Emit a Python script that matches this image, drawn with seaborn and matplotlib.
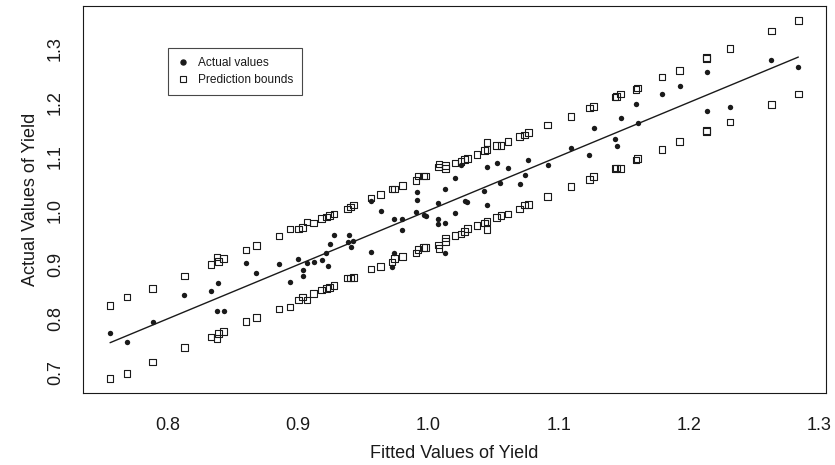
import numpy as np
import pandas as pd
import seaborn as sns
import matplotlib.pyplot as plt
from matplotlib.lines import Line2D

# Fitted values at which the prediction bounds were drawn
bound_fitted = [0.7556, 0.7686, 0.7882, 0.8126, 0.8330, 0.8379, 0.8387, 0.8428, 0.8599, 0.8680,
                0.8855, 0.8937, 0.9002, 0.9034, 0.9067, 0.9120, 0.9181, 0.9217, 0.9242, 0.9274,
                0.9380, 0.9401, 0.9425, 0.9559, 0.9633, 0.9722, 0.9739, 0.9800, 0.9906, 0.9922,
                0.9963, 0.9979, 1.0077, 1.0081, 1.0130, 1.0130, 1.0203, 1.0252, 1.0276, 1.0300,
                1.0374, 1.0431, 1.0451, 1.0451, 1.0524, 1.0557, 1.0610, 1.0700, 1.0740, 1.0769,
                1.0915, 1.1095, 1.1237, 1.1270, 1.1432, 1.1445, 1.1477, 1.1595, 1.1607, 1.1795,
                1.1929, 1.2137, 1.2137, 1.2316, 1.2634, 1.2841]
upper_bound = [0.824, 0.840, 0.856, 0.879, 0.900, 0.914, 0.906, 0.911, 0.927, 0.935,
               0.953, 0.966, 0.966, 0.969, 0.979, 0.977, 0.985, 0.988, 0.991, 0.994,
               1.003, 1.007, 1.010, 1.023, 1.030, 1.040, 1.040, 1.046, 1.056, 1.064,
               1.064, 1.064, 1.081, 1.086, 1.083, 1.078, 1.088, 1.091, 1.095, 1.096,
               1.104, 1.111, 1.113, 1.126, 1.120, 1.120, 1.128, 1.137, 1.140, 1.145,
               1.158, 1.174, 1.190, 1.193, 1.210, 1.211, 1.216, 1.224, 1.227, 1.247,
               1.259, 1.281, 1.283, 1.300, 1.332, 1.352]
lower_bound = [0.689, 0.699, 0.720, 0.747, 0.766, 0.763, 0.773, 0.776, 0.795, 0.802,
               0.818, 0.822, 0.835, 0.840, 0.835, 0.847, 0.853, 0.856, 0.858, 0.861,
               0.875, 0.875, 0.876, 0.892, 0.897, 0.905, 0.911, 0.915, 0.922, 0.928,
               0.932, 0.932, 0.936, 0.930, 0.943, 0.949, 0.954, 0.957, 0.961, 0.967,
               0.972, 0.977, 0.980, 0.965, 0.987, 0.991, 0.994, 1.003, 1.010, 1.011,
               1.026, 1.045, 1.058, 1.063, 1.078, 1.079, 1.078, 1.094, 1.096, 1.113,
               1.128, 1.148, 1.146, 1.164, 1.196, 1.216]

# Actual values of yield against fitted values
fitted = [0.7556, 0.7686, 0.7882, 0.8126, 0.8330, 0.8383, 0.8375, 0.8432, 0.8599, 0.8680,
          0.8855, 0.8937, 0.9002, 0.9034, 0.9034, 0.9067, 0.9120, 0.9181, 0.9217, 0.9230,
          0.9246, 0.9274, 0.9380, 0.9388, 0.9405, 0.9425, 0.9559, 0.9559, 0.9633, 0.9722,
          0.9739, 0.9739, 0.9800, 0.9800, 0.9906, 0.9914, 0.9914, 0.9963, 0.9979, 1.0077,
          1.0077, 1.0077, 1.0130, 1.0130, 1.0130, 1.0203, 1.0203, 1.0252, 1.0280, 1.0300,
          1.0431, 1.0451, 1.0451, 1.0524, 1.0549, 1.0614, 1.0700, 1.0740, 1.0769, 1.0915,
          1.1095, 1.1237, 1.1270, 1.1432, 1.1445, 1.1477, 1.1595, 1.1607, 1.1795, 1.1929,
          1.2137, 1.2137, 1.2316, 1.2634, 1.2841]
actual = [0.774, 0.756, 0.794, 0.843, 0.851, 0.866, 0.814, 0.814, 0.903, 0.884,
          0.901, 0.867, 0.910, 0.890, 0.879, 0.903, 0.904, 0.908, 0.922, 0.898,
          0.939, 0.955, 0.941, 0.955, 0.933, 0.943, 1.017, 0.924, 0.999, 0.895,
          0.985, 0.921, 0.965, 0.985, 0.998, 1.019, 1.034, 0.991, 0.990, 1.014,
          0.985, 0.975, 1.040, 0.977, 0.921, 1.061, 0.995, 1.084, 1.018, 1.016,
          1.037, 1.080, 1.011, 1.089, 1.052, 1.078, 1.050, 1.065, 1.094, 1.084,
          1.115, 1.102, 1.153, 1.132, 1.120, 1.171, 1.197, 1.162, 1.216, 1.231,
          1.256, 1.185, 1.191, 1.279, 1.265]

bounds = pd.DataFrame({
    "fitted": bound_fitted * 2,
    "value": upper_bound + lower_bound,
})
obs = pd.DataFrame({"fitted": fitted, "actual": actual})
fit_line = pd.DataFrame({"x": [min(fitted), max(fitted)], "y": [min(fitted), max(fitted)]})

sns.set_style("white")
plt.rcParams["font.family"] = ["Liberation Sans", "DejaVu Sans"]
ink = "#1a1a1a"

fig = plt.figure(figsize=(8.35, 4.65), dpi=100)
ax = fig.add_axes([0.0989, 0.1548, 0.8901, 0.8322])

sns.scatterplot(data=bounds, x="fitted", y="value", marker="s", s=22,
                facecolor="none", edgecolor=ink, linewidth=0.8, ax=ax)
sns.scatterplot(data=obs, x="fitted", y="actual", marker="o", s=15,
                color=ink, edgecolor=ink, linewidth=0, ax=ax)
sns.lineplot(data=fit_line, x="x", y="y", color=ink, linewidth=1.0, ax=ax)

ax.set_xlim(0.7345, 1.3052)
ax.set_ylim(0.6625, 1.3785)
ax.set_xticks([0.8, 0.9, 1.0, 1.1, 1.2, 1.3])
ax.set_xticklabels(["0.8", "0.9", "1.0", "1.1", "1.2", "1.3"])
ax.set_yticks([0.7, 0.8, 0.9, 1.0, 1.1, 1.2, 1.3])
ax.set_yticklabels(["0.7", "0.8", "0.9", "1.0", "1.1", "1.2", "1.3"], rotation=90, va="center")

ax.tick_params(axis="both", direction="out", length=5.3, width=0.8, color=ink,
               labelsize=13, labelcolor=ink)
ax.tick_params(axis="x", pad=12)
ax.tick_params(axis="y", pad=8)
for sp in ax.spines.values():
    sp.set_visible(True)
    sp.set_color(ink)
    sp.set_linewidth(0.8)

ax.set_xlabel("Fitted Values of Yield", fontsize=13, color=ink, labelpad=8)
ax.set_ylabel("Actual Values of Yield", fontsize=13, color=ink, labelpad=6)

handles = [
    Line2D([], [], marker="o", linestyle="none", color=ink, markersize=3.6),
    Line2D([], [], marker="s", linestyle="none", markerfacecolor="none",
           markeredgecolor=ink, markeredgewidth=0.8, markersize=4.3),
]
leg = ax.legend(handles, ["Actual values", "Prediction bounds"], loc="upper left",
                bbox_to_anchor=(0.1145, 0.891), borderaxespad=0, fontsize=8.6,
                frameon=True, fancybox=False, edgecolor=ink, handlelength=1.0,
                handletextpad=0.8, borderpad=0.75, labelspacing=0.4)
leg.get_frame().set_linewidth(0.8)
for t in leg.get_texts():
    t.set_color(ink)

fig.savefig("out.png", dpi=100)
